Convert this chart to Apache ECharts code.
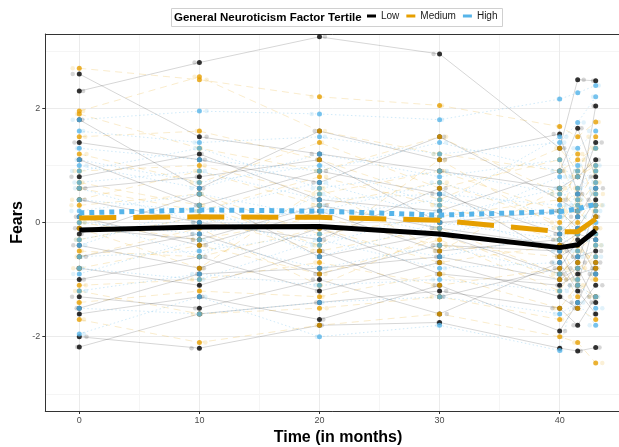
<!DOCTYPE html>
<html>
<head>
<meta charset="utf-8">
<script src="https://cdn.jsdelivr.net/npm/echarts@6/dist/echarts.min.js"></script>
<style>
  html, body { margin: 0; padding: 0; background: #fff; }
  #chart { width: 619px; height: 447px; }
</style>
</head>
<body>
<div id="chart"></div>
<script>
// measurement occasions (months)
var times = [0, 10, 20, 30, 40, 41.5, 43];

// axis breaks
var xMajor = [0, 10, 20, 30, 40];
var xMinor = [5, 15, 25, 35];
var yMajor = [-2, 0, 2];
var yMinor = [-3, -1, 1, 3];

// one row per participant: value at each occasion
var lowSubjects = [
    [2.6, 1.5, 1.2, 0.9, 0.6, 0.8, 1.1],
    [2.3, 2.8, 3.25, 2.95, 1.3, 2.5, 2.48],
    [-2.18, -1.6, -1.4, -1.2, -1.5, -1.8, -1.3],
    [-2.0, -2.2, -1.8, -1.75, -2.2, -2.25, -2.19],
    [1.4, 1.1, 0.7, 1.5, 0.4, 0.2, 2.04],
    [1.1, 0.3, 0.9, 0.5, -0.2, 0.1, 0.6],
    [0.8, 1.2, 0.4, 0.2, 0.9, 1.65, 0.8],
    [0.4, 0.0, -0.3, 0.6, -0.6, -0.4, -0.1],
    [0.1, -0.4, 0.2, -0.5, -0.3, -0.7, 0.3],
    [-0.2, 0.5, -0.6, -0.2, -0.9, -0.6, -0.5],
    [-0.4, -0.8, -0.1, -0.9, -1.1, -0.9, -0.8],
    [-0.6, -0.2, -0.9, -0.4, -0.5, -1.1, 0.1],
    [-0.8, -1.1, -0.5, -1.3, -0.8, -0.3, -0.9],
    [-1.0, -0.6, -1.2, -0.7, -1.3, -1.5, -1.1],
    [-1.3, -1.5, -1.0, -1.6, -0.7, -1.2, -1.6],
    [-1.6, -1.3, -1.7, -1.1, -1.9, -1.4, -0.7],
    [0.6, 0.8, 1.1, 0.0, 0.2, -0.1, 0.4],
    [-0.1, -0.3, 0.3, -0.1, -0.4, -0.2, -0.3],
    [1.8, 0.6, 1.6, 1.1, 1.55, 0.5, 1.4],
    [-1.5, -0.9, -0.8, -0.6, -1.0, -0.8, -1.4]
];

var mediumSubjects = [
    [2.7, 2.5, 2.2, 2.05, 1.68, 1.5, 1.76],
    [1.95, 2.55, 1.6, 1.2, 0.9, 1.1, 1.3],
    [1.9, 1.3, 0.9, 1.5, 0.5, 0.8, 1.0],
    [1.2, 0.7, 1.4, 0.6, 1.1, 0.3, 0.7],
    [0.9, 1.0, 0.5, 0.9, 0.2, 0.6, 0.2],
    [0.6, 0.2, 0.8, 0.3, -0.3, 0.0, 0.5],
    [0.3, 0.5, -0.2, 0.1, 0.4, -0.5, -0.2],
    [0.0, -0.3, 0.1, -0.4, -0.6, -0.2, 0.1],
    [-0.3, 0.1, -0.5, -0.1, -0.9, -0.8, -0.6],
    [-0.5, -0.6, -0.1, -0.7, -0.4, -1.0, -0.4],
    [-0.8, -0.4, -0.9, -0.3, -1.2, -0.7, -1.0],
    [-1.1, -1.0, -0.7, -1.1, -0.8, -1.3, -0.8],
    [-1.4, -1.2, -1.3, -0.9, -1.5, -1.1, -1.3],
    [-1.7, -2.1, -1.8, -1.6, -2.0, -2.1, -2.46],
    [0.4, 0.9, 0.3, 0.7, 0.0, 0.4, 0.9],
    [-0.1, -0.8, 0.6, -0.5, 0.6, 0.2, -0.1],
    [1.5, 1.6, 1.1, 0.4, 1.3, 0.9, 1.5],
    [-1.2, -1.6, -1.5, -1.3, -1.7, -1.5, -1.7],
    [0.7, 0.3, -0.4, 1.1, -0.1, 1.2, 0.3],
    [-0.6, -0.1, -1.1, -0.2, -1.0, -0.4, -0.7]
];

var highSubjects = [
    [1.8, 1.95, 1.9, 1.8, 2.16, 2.27, 2.4],
    [1.6, 1.4, 1.5, 1.2, 1.4, 1.75, 2.2],
    [1.3, 1.1, 0.9, 1.4, 0.9, 1.3, 1.6],
    [1.0, 0.6, 1.2, 0.8, 1.1, 0.6, 1.0],
    [0.7, 0.9, 0.4, 0.5, 0.3, 0.9, 0.7],
    [0.4, 0.2, 0.7, 0.1, 0.6, 0.2, 0.3],
    [0.2, 0.5, 0.1, 0.4, -0.1, 0.4, 0.6],
    [0.0, -0.2, 0.3, -0.2, 0.2, -0.2, 0.0],
    [-0.3, 0.1, -0.4, 0.2, -0.5, 0.1, -0.3],
    [-0.6, -0.5, -0.2, -0.6, -0.2, -0.5, -0.6],
    [-0.9, -0.3, -0.8, -0.4, -0.9, -0.8, -0.9],
    [-1.2, -0.9, -1.1, -1.0, -1.2, -1.1, -1.3],
    [-1.5, -1.6, -1.4, -1.3, -1.6, -1.4, -1.8],
    [-1.95, -1.3, -2.0, -1.8, -2.24, -1.0, -1.5],
    [0.9, 1.3, 0.6, 0.9, 0.5, 1.0, 1.3],
    [0.1, -0.6, 0.5, -0.1, 0.8, 0.3, 0.2],
    [-0.4, 0.3, -0.6, 0.0, -0.3, -0.1, -0.2],
    [0.6, 0.0, 0.2, 0.7, 0.1, 0.5, 0.9],
    [-0.8, -1.0, -0.3, -0.8, -0.7, -0.6, -0.4],
    [1.1, 0.7, 1.0, 0.3, 1.5, 0.8, 0.5]
];

// group means
var lowMean = [-0.13, -0.08, -0.07, -0.2, -0.44, -0.39, -0.14];
var mediumMean = [0.08, 0.1, 0.09, 0.04, -0.16, -0.16, 0.06];
var highMean = [0.17, 0.22, 0.2, 0.13, 0.19, 0.24, 0.32];

// horizontal jitter (months) for the faint copy of the points
var jitterX = [-0.55, 0.32, -0.18, 0.6, -0.4, 0.12, -0.65, 0.45, -0.28, 0.2,
               -0.5, 0.55, -0.1, 0.38, -0.6, 0.05, 0.5, -0.35, 0.25, -0.22];

var FONT = '"Liberation Sans", Arial, sans-serif';

var groups = [
    { name: 'Low', color: '#000000', rgb: '0,0,0', subjects: lowSubjects, mean: lowMean,
      meanDash: 'solid', trajDash: 'solid', trajAlpha: 0.16, jitAlpha: 0.2 },
    { name: 'Medium', color: '#E69F00', rgb: '230,159,0', subjects: mediumSubjects, mean: mediumMean,
      meanDash: [37, 17], trajDash: [7, 5], trajAlpha: 0.2, jitAlpha: 0.2 },
    { name: 'High', color: '#56B4E9', rgb: '86,180,233', subjects: highSubjects, mean: highMean,
      meanDash: [5, 5], trajDash: [1.5, 2.5], trajAlpha: 0.28, jitAlpha: 0.22 }
];

var series = [];

// individual trajectories
groups.forEach(function (g) {
    g.subjects.forEach(function (s, i) {
        series.push({
            type: 'line',
            name: g.name + ' subject ' + i,
            silent: true,
            showSymbol: false,
            symbol: 'none',
            z: 1,
            data: times.map(function (t, j) { return [t, s[j]]; }),
            lineStyle: { color: 'rgba(' + g.rgb + ',' + g.trajAlpha + ')', width: 1, type: g.trajDash }
        });
    });
});

// faint jittered points
groups.forEach(function (g) {
    var pts = [];
    g.subjects.forEach(function (s, i) {
        times.forEach(function (t, j) {
            pts.push([t + jitterX[(i + j * 3) % jitterX.length], s[j]]);
        });
    });
    series.push({
        type: 'scatter',
        name: g.name + ' jitter',
        silent: true,
        symbolSize: 4.5,
        z: 2,
        data: pts,
        itemStyle: { color: 'rgba(' + g.rgb + ',' + g.jitAlpha + ')' }
    });
});

// observed points
groups.forEach(function (g) {
    var pts = [];
    g.subjects.forEach(function (s) {
        times.forEach(function (t, j) { pts.push([t, s[j]]); });
    });
    series.push({
        type: 'scatter',
        name: g.name + ' points',
        silent: true,
        symbolSize: 5,
        z: 3,
        data: pts,
        itemStyle: { color: g.color }
    });
});

// group mean lines
groups.forEach(function (g) {
    series.push({
        type: 'line',
        name: g.name,
        symbol: 'none',
        z: 5,
        data: times.map(function (t, j) { return [t, g.mean[j]]; }),
        itemStyle: { color: g.color },
        lineStyle: { color: g.color, width: 5, type: g.meanDash, cap: 'butt' }
    });
});

var X_MIN = -2.83, X_MAX = 44.94, Y_MIN = -3.3, Y_MAX = 3.3;
var hiddenTick = { show: true, length: 0, lineStyle: { color: 'rgba(0,0,0,0)' } };

var chart = echarts.init(document.getElementById('chart'));
chart.setOption({
    animation: false,
    backgroundColor: '#ffffff',
    textStyle: { fontFamily: FONT },
    grid: { left: 45.3, right: 0, top: 34, bottom: 36, outerBoundsMode: 'none', containLabel: false },
    legend: {
        data: [
            { name: 'Low', icon: 'rect' },
            { name: 'Medium', icon: 'rect' },
            { name: 'High', icon: 'rect' }
        ],
        left: 367,
        top: 11,
        padding: 0,
        itemWidth: 9,
        itemHeight: 3,
        itemGap: 7,
        selectedMode: false,
        textStyle: { fontFamily: FONT, fontSize: 10, color: '#1a1a1a' }
    },
    graphic: [
        {
            type: 'rect',
            shape: { x: 171.5, y: 8.5, width: 331, height: 18 },
            style: { fill: '#ffffff', stroke: '#d0d0d0', lineWidth: 1 },
            z: -1
        },
        {
            type: 'text',
            x: 174, y: 17.5,
            style: { text: 'General Neuroticism Factor Tertile', font: 'bold 11.5px ' + FONT, fill: '#000', verticalAlign: 'middle' }
        },
        {
            type: 'text',
            x: 338, y: 438,
            style: { text: 'Time (in months)', font: 'bold 16px ' + FONT, fill: '#000', align: 'center', verticalAlign: 'middle' }
        },
        {
            type: 'text',
            x: 18, y: 222.5,
            rotation: Math.PI / 2,
            style: { text: 'Fears', font: 'bold 16px ' + FONT, fill: '#000', align: 'center', verticalAlign: 'middle' }
        }
    ],
    xAxis: [
        {
            type: 'value',
            min: X_MIN,
            max: X_MAX,
            axisLine: { show: true, onZero: false, lineStyle: { color: '#333333', width: 1 } },
            axisTick: { show: true, length: 3, lineStyle: { color: '#333333' }, customValues: xMajor },
            axisLabel: { color: '#4d4d4d', fontSize: 9, margin: 5, customValues: xMajor },
            splitLine: { show: true, lineStyle: { color: '#ebebeb', width: 1 } }
        },
        {
            type: 'value',
            position: 'top',
            min: X_MIN,
            max: X_MAX,
            axisLine: { show: true, onZero: false, lineStyle: { color: '#333333', width: 1 } },
            axisTick: Object.assign({ customValues: xMinor }, hiddenTick),
            axisLabel: { show: false, customValues: xMinor },
            splitLine: { show: true, lineStyle: { color: '#f5f5f5', width: 1 } }
        }
    ],
    yAxis: [
        {
            type: 'value',
            min: Y_MIN,
            max: Y_MAX,
            axisLine: { show: true, onZero: false, lineStyle: { color: '#333333', width: 1 } },
            axisTick: { show: true, length: 3, lineStyle: { color: '#333333' }, customValues: yMajor },
            axisLabel: { color: '#4d4d4d', fontSize: 9, margin: 5, customValues: yMajor },
            splitLine: { show: true, lineStyle: { color: '#ebebeb', width: 1 } }
        },
        {
            type: 'value',
            position: 'right',
            min: Y_MIN,
            max: Y_MAX,
            axisLine: { show: false },
            axisTick: Object.assign({ customValues: yMinor }, hiddenTick),
            axisLabel: { show: false, customValues: yMinor },
            splitLine: { show: true, lineStyle: { color: '#f5f5f5', width: 1 } }
        }
    ],
    series: series
});
</script>
</body>
</html>
